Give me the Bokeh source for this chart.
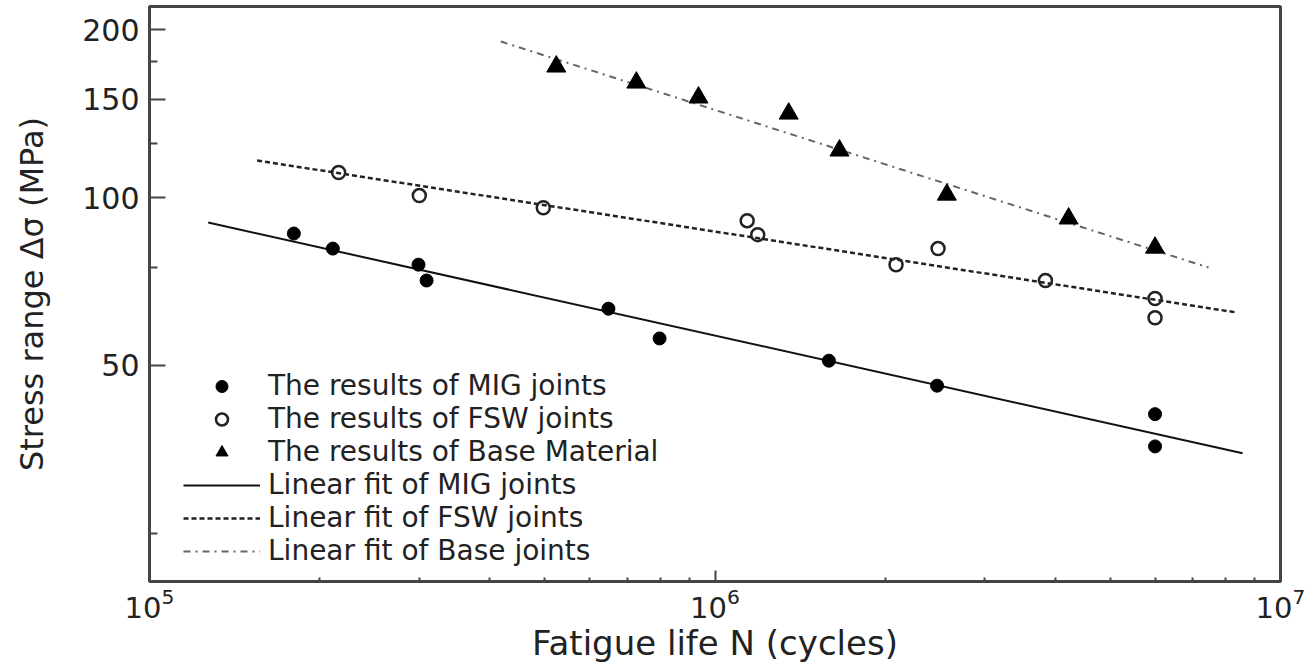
from bokeh.plotting import figure
from bokeh.models import (FixedTicker, PrintfTickFormatter, Legend, LegendItem,
                          LogTickFormatter)
from bokeh.embed import file_html
from bokeh.resources import INLINE

# Fatigue test results (cycles to failure, stress range in MPa)
mig_n = [1.80e5, 2.11e5, 2.99e5, 3.09e5, 6.48e5, 7.98e5, 1.59e6, 2.47e6, 6.0e6, 6.0e6]
mig_s = [86.2, 81.0, 75.8, 71.0, 63.2, 55.9, 51.0, 46.0, 40.9, 35.8]

fsw_n = [2.16e5, 3.0e5, 4.97e5, 1.14e6, 1.19e6, 2.09e6, 2.48e6, 3.84e6, 6.0e6, 6.0e6]
fsw_s = [110.9, 100.8, 95.9, 90.9, 85.8, 75.8, 81.0, 71.0, 65.9, 60.9]

base_n = [5.24e5, 7.26e5, 9.35e5, 1.35e6, 1.66e6, 2.57e6, 4.22e6, 6.0e6]
base_s = [171.7, 160.7, 151.1, 141.4, 121.4, 101.2, 91.7, 81.3]

# Linear fits (straight lines in log-log space), given by their end points
mig_fit_n = [1.27e5, 8.57e6]
mig_fit_s = [90.2, 34.8]
fsw_fit_n = [1.55e5, 8.39e6]
fsw_fit_s = [116.5, 62.2]
base_fit_n = [4.18e5, 7.46e6]
base_fit_s = [190.4, 74.9]

# Axis ticks
x_major = [1e5, 1e6, 1e7]
x_minor = [2e5, 3e5, 4e5, 5e5, 6e5, 7e5, 8e5, 9e5,
           2e6, 3e6, 4e6, 5e6, 6e6, 7e6, 8e6, 9e6]
y_major = [50, 100, 150, 200]
y_minor = [25, 75, 125, 175]

FONT = "DejaVu Sans"
INK = "#222222"
FRAME = "#444444"

p = figure(width=1314, height=668, x_axis_type="log", y_axis_type="log",
           x_range=(1e5, 1e7), y_range=(20.5, 220),
           output_backend="svg", toolbar_location=None,
           min_border_left=149, min_border_right=34,
           min_border_top=6, min_border_bottom=87)

p.background_fill_color = "white"
p.border_fill_color = "white"
p.outline_line_color = FRAME
p.outline_line_width = 3
p.xgrid.visible = False
p.ygrid.visible = False

# x axis
xa = p.xaxis[0]
xa.ticker = FixedTicker(ticks=x_major, minor_ticks=x_minor)
xa.formatter = LogTickFormatter()
xa.axis_label = "Fatigue life N (cycles)"
xa.axis_label_text_font = FONT
xa.axis_label_text_font_size = "34px"
xa.axis_label_text_font_style = "normal"
xa.axis_label_text_color = INK
xa.axis_label_standoff = 2
xa.major_label_text_font = FONT
xa.major_label_text_font_size = "29px"
xa.major_label_text_color = INK
xa.major_label_standoff = 6
xa.major_tick_in = 11
xa.major_tick_out = 0
xa.minor_tick_in = 4
xa.minor_tick_out = 0
xa.axis_line_color = FRAME
xa.axis_line_width = 3
xa.major_tick_line_color = FRAME
xa.major_tick_line_width = 2
xa.minor_tick_line_color = FRAME
xa.minor_tick_line_width = 2

# y axis
ya = p.yaxis[0]
ya.ticker = FixedTicker(ticks=y_major, minor_ticks=y_minor)
ya.formatter = PrintfTickFormatter(format="%d")
ya.axis_label = "Stress range Δσ (MPa)"
ya.axis_label_text_font = FONT
ya.axis_label_text_font_size = "32px"
ya.axis_label_text_font_style = "normal"
ya.axis_label_text_color = INK
ya.axis_label_standoff = 28
ya.major_label_text_font = FONT
ya.major_label_text_font_size = "30px"
ya.major_label_text_color = INK
ya.major_label_standoff = 10
ya.major_tick_in = 16
ya.major_tick_out = 0
ya.minor_tick_in = 8
ya.minor_tick_out = 0
ya.axis_line_color = FRAME
ya.axis_line_width = 3
ya.major_tick_line_color = FRAME
ya.major_tick_line_width = 2
ya.minor_tick_line_color = FRAME
ya.minor_tick_line_width = 2

# fitted lines
l_mig = p.line(mig_fit_n, mig_fit_s, line_color="#111111", line_width=2)
l_fsw = p.line(fsw_fit_n, fsw_fit_s, line_color="#222222", line_width=2.5,
               line_dash="5 3")
l_base = p.line(base_fit_n, base_fit_s, line_color="#666666", line_width=2,
                line_dash="7 5 2 5")

# measured points
r_mig = p.scatter(mig_n, mig_s, marker="circle", size=13,
                  fill_color="black", line_color="black")
r_fsw = p.scatter(fsw_n, fsw_s, marker="circle", size=13,
                  fill_color=None, line_color="#222222", line_width=2.5)
r_base = p.scatter(base_n, base_s, marker="triangle", size=19,
                   fill_color="black", line_color="black")

legend = Legend(items=[
    LegendItem(label="The results of MIG joints", renderers=[r_mig]),
    LegendItem(label="The results of FSW joints", renderers=[r_fsw]),
    LegendItem(label="The results of Base Material", renderers=[r_base]),
    LegendItem(label="Linear fit of MIG joints", renderers=[l_mig]),
    LegendItem(label="Linear fit of FSW joints", renderers=[l_fsw]),
    LegendItem(label="Linear fit of Base joints", renderers=[l_base]),
], location=(34, 14))
legend.border_line_color = None
legend.background_fill_alpha = 0
legend.padding = 0
legend.margin = 0
legend.spacing = 0
legend.glyph_width = 77
legend.glyph_height = 30
legend.label_height = 20
legend.label_standoff = 8
legend.label_text_font = FONT
legend.label_text_font_size = "28px"
legend.label_text_color = INK
p.add_layout(legend)

open("out.html", "w").write(file_html(p, INLINE))
